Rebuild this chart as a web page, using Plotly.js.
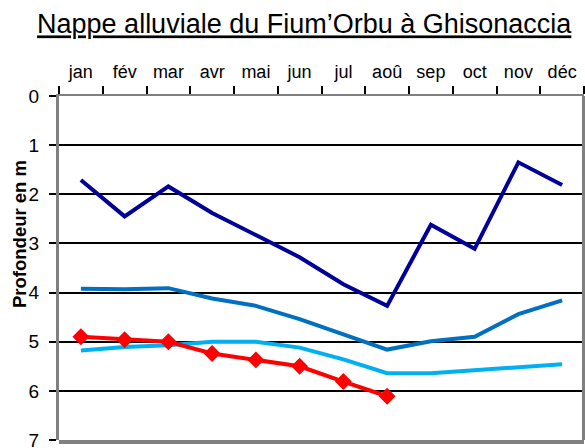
<!DOCTYPE html>
<html>
<head>
<meta charset="utf-8">
<script src="https://cdn.plot.ly/plotly-3.0.1.min.js"></script>
<style>html,body{margin:0;padding:0;background:#fff;}#chart{width:585px;height:448px;}</style>
</head>
<body>
<div id="chart"></div>
<script>
const months = ['jan','fév','mar','avr','mai','jun','jul','aoû','sep','oct','nov','déc'];
const serieFonce = [1.71, 2.45, 1.84, 2.38, 2.83, 3.28, 3.83, 4.27, 2.62, 3.11, 1.35, 1.81];
const serieMoyen = [3.92, 3.93, 3.91, 4.12, 4.27, 4.54, 4.85, 5.16, 4.99, 4.90, 4.44, 4.16];
const serieClair = [5.18, 5.11, 5.07, 5.00, 5.00, 5.12, 5.36, 5.64, 5.64, 5.58, 5.52, 5.46];
const serieRouge = [4.90, 4.96, 5.00, 5.24, 5.37, 5.50, 5.81, 6.11];
const yTicks = [0,1,2,3,4,5,6,7];

const traces = [
  {x: months, y: serieClair, type:'scatter', mode:'lines', line:{color:'#00B0F0', width:4}, hoverinfo:'skip'},
  {x: months, y: serieMoyen, type:'scatter', mode:'lines', line:{color:'#0070C0', width:4}, hoverinfo:'skip'},
  {x: months, y: serieFonce, type:'scatter', mode:'lines', line:{color:'#000099', width:4}, hoverinfo:'skip'},
  {x: months.slice(0, serieRouge.length), y: serieRouge, type:'scatter', mode:'lines+markers',
   line:{color:'#FF0000', width:4}, marker:{symbol:'diamond', size:13, color:'#FF0000'}, hoverinfo:'skip'}
];

const layout = {
  width:585, height:448,
  margin:{l:59, r:1, t:96, b:8},
  paper_bgcolor:'#fff', plot_bgcolor:'#fff',
  showlegend:false,
  font:{family:'"Liberation Sans", Arial, sans-serif', color:'#000'},
  title:{text:'<u>Nappe alluviale du Fium’Orbu à Ghisonaccia</u>', font:{size:27, color:'#000'},
         xref:'container', x:0.52, xanchor:'center', yref:'container', y:1-24/448, yanchor:'middle'},
  xaxis:{type:'category', categoryorder:'array', categoryarray:months, range:[-0.5, 11.5],
         side:'top', showline:true, linecolor:'#808080', linewidth:2, mirror:false,
         ticks:'outside', tickson:'boundaries', ticklen:8, tickwidth:2, tickcolor:'#000',
         ticklabelstandoff:9,
         showgrid:false, zeroline:false, tickfont:{size:18, color:'#000'}, fixedrange:true},
  yaxis:{range:[7,0], tickvals:yTicks, ticktext:yTicks.map(String),
         showline:true, linecolor:'#808080', linewidth:3,
         ticks:'outside', ticklen:7, tickwidth:2, tickcolor:'#000', ticklabelstandoff:6,
         ticklabeloverflow:'allow',
         showgrid:true, gridcolor:'#000', gridwidth:2, zeroline:false,
         tickfont:{size:19, color:'#000'},
         fixedrange:true},
  annotations:[
    {text:'<b>Profondeur en m</b>', textangle:-90, showarrow:false,
     xref:'paper', yref:'paper', x:(19-59)/525, y:(440-234)/344, xanchor:'center', yanchor:'middle',
     font:{size:18.5, color:'#000'}}
  ],
  shapes:[
    {type:'rect', xref:'paper', yref:'paper', x0:0, x1:1, ysizemode:'pixel', yanchor:0, y0:-4, y1:0,
     fillcolor:'#808080', line:{width:0}, layer:'above'},
    {type:'rect', yref:'paper', xref:'paper', y0:0, y1:1, xsizemode:'pixel', xanchor:1, x0:-2, x1:1,
     fillcolor:'#808080', line:{width:0}, layer:'above'}
  ]
};
Plotly.newPlot('chart', traces, layout, {displayModeBar:false, staticPlot:true});
</script>
</body>
</html>
